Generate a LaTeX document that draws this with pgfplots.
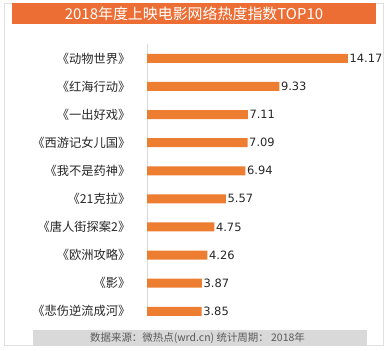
\documentclass[border=0pt]{standalone}
\usepackage{pgfplots}
\pgfplotsset{compat=1.18}
\usepackage{fontspec}
\setmainfont{DejaVu Sans}
\newfontfamily\cjk{Noto Sans CJK SC}
\definecolor{barorange}{HTML}{ED7D31}
\definecolor{titleorange}{HTML}{ED6E35}
\definecolor{footgray}{HTML}{D9D9D9}
\definecolor{txt}{HTML}{262626}
\begin{document}
\begin{tikzpicture}
\useasboundingbox (0,0) rectangle (388bp,351bp);
% outer frame
\draw[black!12, line width=0.8bp] (4bp,6bp) rectangle (383bp,348bp);
% title bar
\fill[titleorange] (12bp,327bp) rectangle (376bp,348bp);
\node[text=white, font=\cjk\fontsize{15}{15}\selectfont, inner sep=0pt] at (194bp,337.5bp) {2018年度上映电影网络热度指数TOP10};
% footer
\fill[footgray] (33bp,5bp) rectangle (367bp,21bp);
\node[text=black!65, font=\cjk\fontsize{10.5}{11}\selectfont, inner sep=0pt] at (197.5bp,13bp) {数据来源：微热点(wrd.cn) 统计周期： 2018年};
\begin{axis}[
  at={(147bp,306.7bp)}, anchor=north west,
  x=14.18bp, y=28.1bp,
  xmin=0, xmax=15, ymin=-0.5, ymax=9.15,
  y dir=reverse,
  xbar, bar width=9bp,
  axis x line=none,
  axis y line*=left,
  y axis line style={draw=black!15, line width=0.8bp},
  major tick length=0pt,
  ytick={0,...,9},
  yticklabels={《动物世界》,《红海行动》,《一出好戏》,《西游记女儿国》,《我不是药神》,《21克拉》,《唐人街探案2》,《欧洲攻略》,《影》,《悲伤逆流成河》},
  yticklabel style={font=\cjk\fontsize{12.3}{13}\selectfont, text=txt, anchor=east, inner sep=0pt, xshift=-16.5bp},
  nodes near coords,
  nodes near coords style={font=\fontsize{11.5}{12}\selectfont, text=txt, anchor=west, inner sep=1.5bp},
  /pgf/number format/.cd, fixed, precision=2, fixed zerofill, assume math mode=true,
]
\addplot[fill=barorange, draw=none] coordinates {
(14.17,0) (9.33,1) (7.11,2) (7.09,3) (6.94,4) (5.57,5) (4.75,6) (4.26,7) (3.87,8) (3.85,9)
};
\end{axis}
\end{tikzpicture}
\end{document}
